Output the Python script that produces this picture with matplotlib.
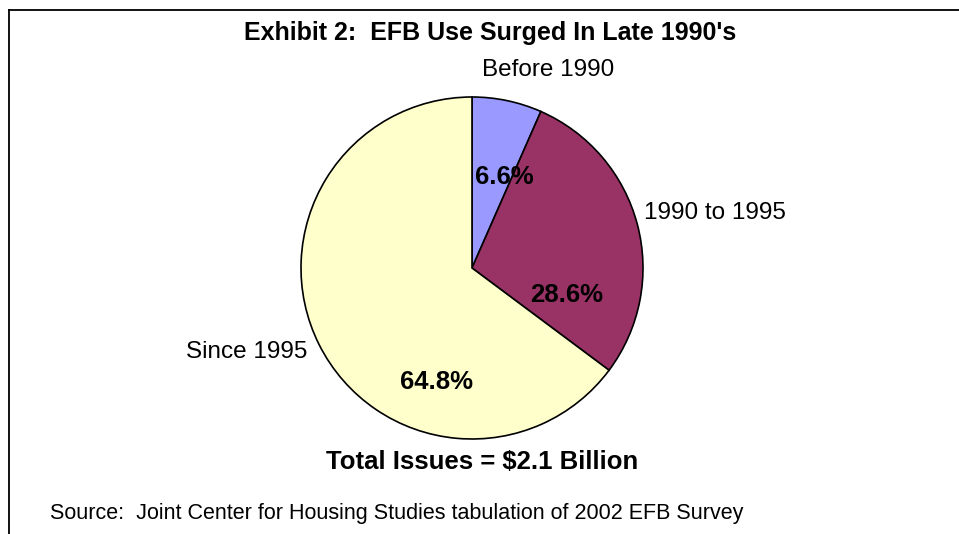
import matplotlib.pyplot as plt
from matplotlib.lines import Line2D

plt.rcParams['font.family'] = ['Liberation Sans', 'DejaVu Sans']

categories = ['Before 1990', '1990 to 1995', 'Since 1995']
shares = [6.6, 28.6, 64.8]
colors = ['#9999FF', '#993366', '#FFFFCC']

W, H = 959, 534
fig = plt.figure(figsize=(W / 100, H / 100), dpi=100)

# pie box in pixels: centre (472, 268), radius 171
cx, cy, r = 472, 268, 171
ax = fig.add_axes([(cx - r) / W, (H - cy - r) / H, 2 * r / W, 2 * r / H])
wedges, _ = ax.pie(shares, colors=colors, startangle=90, counterclock=False,
                   radius=1, wedgeprops=dict(edgecolor='black', linewidth=1.2))
ax.set_xlim(-1, 1)
ax.set_ylim(-1, 1)
ax.set_axis_off()

# label positions (Excel style, not at mid angle)
name_pos = [(0.445, 1.155), (1.42, 0.32), (-1.32, -0.49)]
pct_pos = [(0.19, 0.53), (0.556, -0.158), (-0.205, -0.667)]
for name, val, (nx, ny), (px, py) in zip(categories, shares, name_pos, pct_pos):
    ax.text(nx, ny, name, ha='center', va='center', fontsize=17.5, clip_on=False)
    ax.text(px, py, f'{val:.1f}%', ha='center', va='center', fontsize=18.5,
            fontweight='bold', clip_on=False)

fig.text(490 / W, 1 - 33 / H, "Exhibit 2:  EFB Use Surged In Late 1990's",
         ha='center', va='center', fontsize=18, fontweight='bold')
fig.text(482 / W, 1 - 462 / H, 'Total Issues = $2.1 Billion',
         ha='center', va='center', fontsize=18.5, fontweight='bold')
fig.text(50 / W, 1 - 513 / H,
         'Source:  Joint Center for Housing Studies tabulation of 2002 EFB Survey',
         ha='left', va='center', fontsize=15.5)

# chart border (top and left visible)
fig.add_artist(Line2D([9 / W, 1], [1 - 10 / H, 1 - 10 / H], color='black', lw=1.3))
fig.add_artist(Line2D([9 / W, 9 / W], [1 - 10 / H, 0], color='black', lw=1.3))

fig.savefig('out.png', dpi=100)
